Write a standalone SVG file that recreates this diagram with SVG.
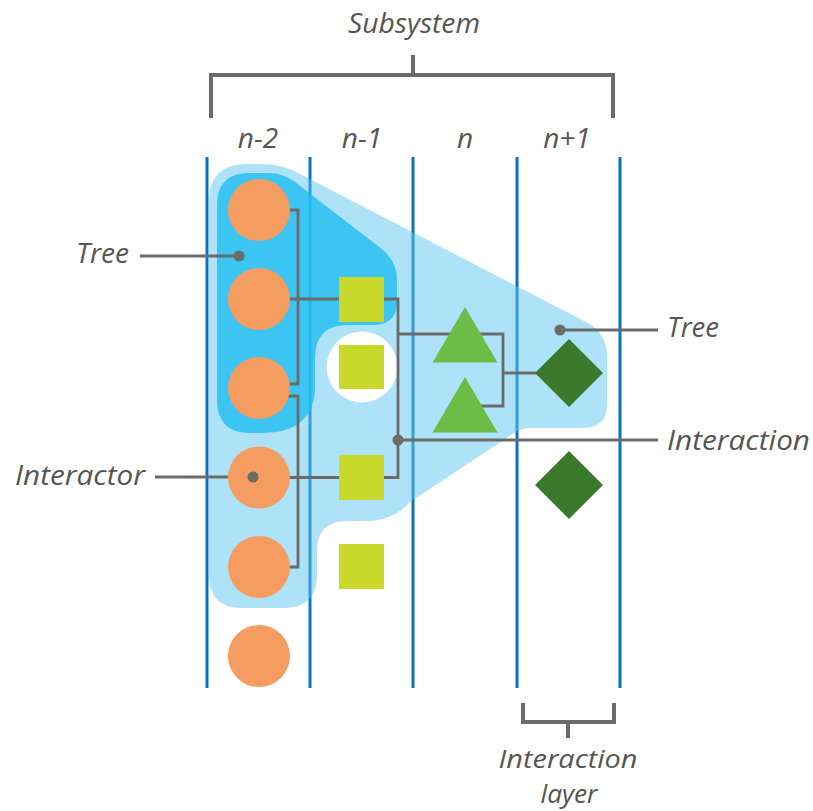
<svg xmlns="http://www.w3.org/2000/svg" width="813" height="811" viewBox="0 0 813 811">
<style>
.lane{stroke:#0a72c0;stroke-width:3;fill:none}
.br{stroke:#6b6b6b;stroke-width:4;fill:none}
.con{stroke:#6b6b6b;stroke-width:2.8;fill:none}
.lbl{stroke:#6b6b6b;stroke-width:3.2;fill:none}
.dot{fill:#6b6b6b}
.t{font-family:"Open Sans","DejaVu Sans",sans-serif;font-style:italic;font-size:28px;fill:#555}
.s{font-size:25px}
.c{fill:#f59c61}
.sq{fill:#c8d92b}
.tri{fill:#6bbd45}
.dia{fill:#3b7a2c}
</style>
<rect width="813" height="811" fill="#fff"/>
<g id="lanes">
<line class="lane" x1="207" y1="157" x2="207" y2="688"/>
<line class="lane" x1="310" y1="157" x2="310" y2="688"/>
<line class="lane" x1="413" y1="157" x2="413" y2="688"/>
<line class="lane" x1="517" y1="157" x2="517" y2="688"/>
<line class="lane" x1="620" y1="157" x2="620" y2="688"/>
</g>
<g id="subsystem-tree">
<path fill="#5bc5f2" fill-opacity="0.5" d="M209,200 Q209,164 248,164 L262,164 Q282,164 300,174 L586,322 Q607,333 607,356 L607,405 Q607,428 582,428 L530,428 Q522,428 514,433 L410,502 Q393,521 365,521 L347,521 Q317,521 317,551 L317,575 Q317,608 284,608 L242,608 Q209,608 209,575 Z"/>
<circle cx="362" cy="367" r="35.5" fill="#fff"/>
</g>
<g id="inner-tree">
<path fill="#1fbef0" fill-opacity="0.8" d="M217,205 Q217,173 250,173 L268,173 Q283,173 295,182 L383,250 Q397,262 397,280 L397,302 Q397,325 372,325 L348,325 Q315,325 315,358 L315,390 Q312,433 262,433 L250,433 Q217,433 217,400 Z"/>
</g>
<g id="connectors">
<path class="con" d="M288,210 H298 V384 H288"/>
<path class="con" d="M288,299 H340"/>
<path class="con" d="M288,396 H298 V567 H288"/>
<path class="con" d="M288,477.5 H340"/>
<path class="con" d="M383,299 H398 V477.5 H383"/>
<path class="con" d="M398,334 H503 V406 H480"/>
<path class="con" d="M503,373 H536"/>
<path class="lbl" d="M398,440 H658"/>
<circle class="dot" cx="398" cy="440" r="5.5"/>
<path class="lbl" d="M140,256 H239"/>
<circle class="dot" cx="239" cy="256" r="5.5"/>
<path class="lbl" d="M155,477 H253"/>
<path class="lbl" d="M560,330 H658"/>
<circle class="dot" cx="560" cy="330" r="5.5"/>
</g>
<g id="interactors-n-2">
<circle class="c" cx="259" cy="210" r="31"/>
<circle class="c" cx="259" cy="299" r="31"/>
<circle class="c" cx="259" cy="388" r="31"/>
<circle class="c" cx="259" cy="477.5" r="31"/>
<circle class="c" cx="259" cy="567" r="31"/>
<circle class="c" cx="259" cy="656" r="31"/>
<circle class="dot" cx="253" cy="477" r="5.5"/>
</g>
<g id="interactors-n-1">
<rect class="sq" x="339" y="277" width="45" height="45"/>
<rect class="sq" x="339" y="345" width="45" height="44"/>
<rect class="sq" x="339" y="455" width="45" height="45"/>
<rect class="sq" x="339" y="544" width="45" height="45"/>
</g>
<g id="interactors-n">
<polygon class="tri" points="465,307 432.5,362.5 497.5,362.5"/>
<polygon class="tri" points="465,377 432.5,432.5 497.5,432.5"/>
</g>
<g id="interactors-n1">
<polygon class="dia" points="569,339 603,373 569,407 535,373"/>
<polygon class="dia" points="569,451 603,485 569,519 535,485"/>
</g>
<g id="subsystem-bracket">
<path class="br" d="M211,118 V75 H613 V118 M413,55 V75"/>
<text class="t" x="414" y="33" text-anchor="middle" textLength="132" lengthAdjust="spacingAndGlyphs">Subsystem</text>
</g>
<g id="layer-labels">
<text class="t" x="258" y="148" text-anchor="middle">n-2</text>
<text class="t" x="362" y="148" text-anchor="middle">n-1</text>
<text class="t" x="465" y="148" text-anchor="middle">n</text>
<text class="t" x="567" y="148" text-anchor="middle">n+1</text>
</g>
<g id="label-tree-left">
<text class="t" x="129" y="263" text-anchor="end" textLength="53" lengthAdjust="spacingAndGlyphs">Tree</text>
</g>
<g id="label-interactor">
<text class="t" x="145" y="485" text-anchor="end" textLength="130" lengthAdjust="spacingAndGlyphs">Interactor</text>
</g>
<g id="label-tree-right">
<text class="t" x="667" y="337" textLength="52" lengthAdjust="spacingAndGlyphs">Tree</text>
</g>
<g id="label-interaction">
<text class="t" x="667" y="450" textLength="143" lengthAdjust="spacingAndGlyphs">Interaction</text>
</g>
<g id="interaction-layer-bracket">
<path class="br" d="M523,703 V722 H614 V703 M568,722 V738"/>
<text class="t s" x="568" y="768" text-anchor="middle" textLength="139" lengthAdjust="spacingAndGlyphs">Interaction</text>
<text class="t s" x="569" y="803" text-anchor="middle" textLength="57" lengthAdjust="spacingAndGlyphs">layer</text>
</g>
</svg>
